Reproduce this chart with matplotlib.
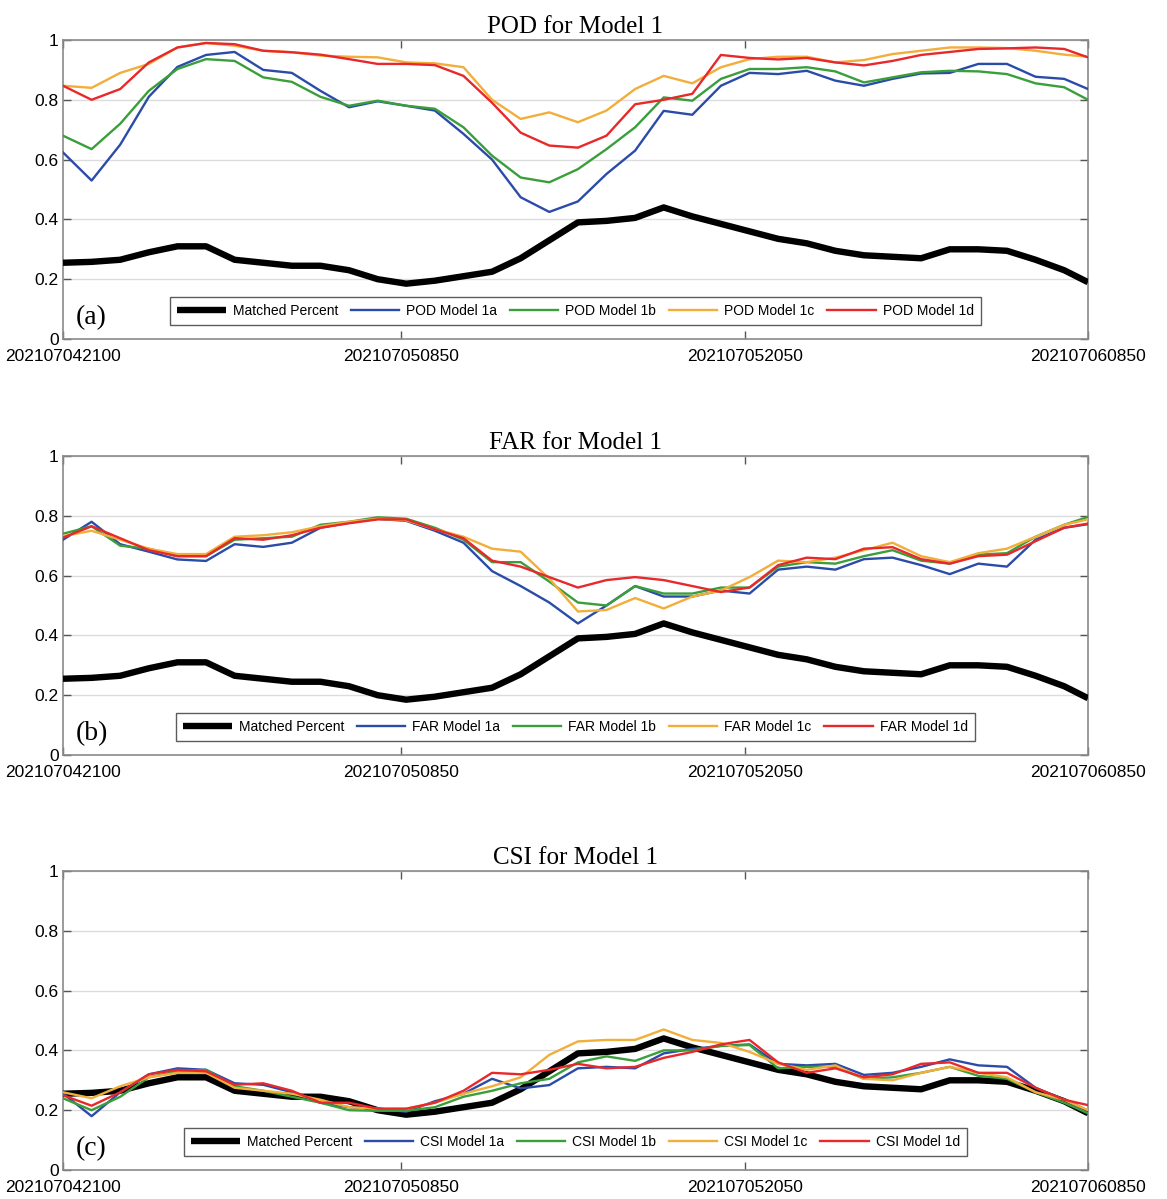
import matplotlib
matplotlib.use("Agg")
import matplotlib.pyplot as plt
import numpy as np

# ---------------- data (hours after 2021-07-04 21:00) ----------------
HOURS = list(range(36)) + [35.833]
TICK_POS = [0, 11.833, 23.833, 35.833]
TICK_LABELS = ["202107042100", "202107050850", "202107052050", "202107060850"]

matched = [0.255, 0.258, 0.265, 0.29, 0.31, 0.31, 0.265, 0.255, 0.245, 0.245,
           0.23, 0.20, 0.185, 0.195, 0.21, 0.225, 0.27, 0.33, 0.39, 0.395,
           0.405, 0.44, 0.41, 0.385, 0.36, 0.335, 0.32, 0.295, 0.28, 0.275,
           0.27, 0.30, 0.30, 0.295, 0.265, 0.23, 0.19]

pod_1a = [0.624, 0.53, 0.65, 0.81, 0.91, 0.95, 0.96, 0.90, 0.89, 0.83,
          0.775, 0.795, 0.78, 0.764, 0.686, 0.60, 0.474, 0.425, 0.46, 0.552,
          0.63, 0.763, 0.75, 0.847, 0.89, 0.886, 0.897, 0.864, 0.847, 0.87,
          0.888, 0.89, 0.92, 0.92, 0.877, 0.87, 0.836]
pod_1b = [0.68, 0.635, 0.72, 0.83, 0.903, 0.936, 0.93, 0.875, 0.86, 0.81,
          0.78, 0.797, 0.78, 0.77, 0.708, 0.613, 0.54, 0.524, 0.568, 0.635,
          0.708, 0.808, 0.797, 0.87, 0.903, 0.903, 0.909, 0.895, 0.858, 0.875,
          0.892, 0.897, 0.895, 0.886, 0.855, 0.842, 0.80]
pod_1c = [0.847, 0.84, 0.89, 0.92, 0.975, 0.99, 0.981, 0.964, 0.959, 0.948,
          0.944, 0.942, 0.925, 0.922, 0.909, 0.80, 0.736, 0.758, 0.725, 0.764,
          0.836, 0.88, 0.855, 0.909, 0.936, 0.944, 0.944, 0.925, 0.933, 0.953,
          0.964, 0.975, 0.975, 0.973, 0.964, 0.951, 0.944]
pod_1d = [0.847, 0.80, 0.836, 0.925, 0.975, 0.99, 0.986, 0.964, 0.959, 0.951,
          0.936, 0.92, 0.92, 0.916, 0.88, 0.79, 0.69, 0.647, 0.64, 0.68,
          0.785, 0.80, 0.82, 0.95, 0.94, 0.935, 0.94, 0.925, 0.915, 0.93,
          0.95, 0.96, 0.97, 0.972, 0.975, 0.97, 0.942]

far_1a = [0.72, 0.78, 0.705, 0.68, 0.654, 0.649, 0.705, 0.696, 0.71, 0.76,
          0.777, 0.79, 0.783, 0.75, 0.71, 0.615, 0.565, 0.51, 0.44, 0.50,
          0.565, 0.53, 0.53, 0.55, 0.54, 0.62, 0.63, 0.62, 0.655, 0.66,
          0.635, 0.605, 0.64, 0.63, 0.72, 0.76, 0.772]
far_1b = [0.74, 0.765, 0.70, 0.69, 0.665, 0.665, 0.72, 0.725, 0.73, 0.77,
          0.78, 0.795, 0.79, 0.76, 0.72, 0.645, 0.645, 0.58, 0.51, 0.50,
          0.565, 0.54, 0.54, 0.56, 0.56, 0.63, 0.645, 0.64, 0.665, 0.685,
          0.65, 0.64, 0.67, 0.675, 0.73, 0.77, 0.796]
far_1c = [0.732, 0.75, 0.72, 0.69, 0.672, 0.672, 0.73, 0.735, 0.745, 0.765,
          0.78, 0.79, 0.785, 0.755, 0.73, 0.69, 0.68, 0.59, 0.48, 0.485,
          0.525, 0.49, 0.53, 0.55, 0.595, 0.65, 0.645, 0.66, 0.685, 0.71,
          0.665, 0.645, 0.675, 0.69, 0.73, 0.77, 0.788]
far_1d = [0.727, 0.765, 0.725, 0.685, 0.665, 0.665, 0.725, 0.72, 0.735, 0.76,
          0.775, 0.788, 0.788, 0.755, 0.725, 0.65, 0.63, 0.595, 0.56, 0.585,
          0.595, 0.585, 0.565, 0.545, 0.56, 0.635, 0.66, 0.655, 0.69, 0.695,
          0.655, 0.64, 0.665, 0.67, 0.715, 0.76, 0.774]

csi_1a = [0.256, 0.18, 0.26, 0.32, 0.34, 0.335, 0.29, 0.285, 0.26, 0.225,
          0.21, 0.205, 0.195, 0.23, 0.255, 0.305, 0.273, 0.284, 0.34, 0.345,
          0.34, 0.39, 0.405, 0.415, 0.42, 0.355, 0.35, 0.355, 0.318, 0.325,
          0.345, 0.37, 0.35, 0.345, 0.275, 0.235, 0.189]
csi_1b = [0.24, 0.20, 0.245, 0.31, 0.33, 0.335, 0.28, 0.265, 0.245, 0.225,
          0.20, 0.198, 0.198, 0.21, 0.245, 0.265, 0.29, 0.305, 0.36, 0.38,
          0.365, 0.40, 0.40, 0.415, 0.418, 0.34, 0.345, 0.345, 0.305, 0.31,
          0.325, 0.345, 0.315, 0.305, 0.26, 0.225, 0.19]
csi_1c = [0.26, 0.24, 0.28, 0.31, 0.325, 0.325, 0.275, 0.265, 0.255, 0.235,
          0.21, 0.205, 0.205, 0.225, 0.255, 0.28, 0.31, 0.385, 0.43, 0.435,
          0.435, 0.47, 0.435, 0.425, 0.395, 0.355, 0.335, 0.35, 0.305, 0.30,
          0.325, 0.345, 0.325, 0.31, 0.26, 0.235, 0.20]
csi_1d = [0.25, 0.215, 0.26, 0.32, 0.335, 0.33, 0.285, 0.29, 0.265, 0.225,
          0.225, 0.205, 0.205, 0.225, 0.265, 0.325, 0.32, 0.335, 0.355, 0.34,
          0.345, 0.375, 0.395, 0.42, 0.435, 0.36, 0.325, 0.34, 0.31, 0.32,
          0.355, 0.36, 0.325, 0.325, 0.275, 0.235, 0.217]

PANELS = [
    ("POD", "(a)", [pod_1a, pod_1b, pod_1c, pod_1d]),
    ("FAR", "(b)", [far_1a, far_1b, far_1c, far_1d]),
    ("CSI", "(c)", [csi_1a, csi_1b, csi_1c, csi_1d]),
]
SUFFIXES = ["1a", "1b", "1c", "1d"]
COLORS = ["#2B4BA8", "#3A9E3A", "#F2AE3A", "#E8282A"]

# ---------------- figure ----------------
W, H = 1167, 1199
fig = plt.figure(figsize=(W / 100, H / 100), dpi=100)

def px_axes(left, top, right, bottom):
    return fig.add_axes([left / W, 1 - bottom / H, (right - left) / W, (bottom - top) / H])

boxes = [(63, 40, 1088, 339), (63, 456, 1088, 755), (63, 871, 1088, 1170)]

for (metric, tag, series), box in zip(PANELS, boxes):
    ax = px_axes(*box)
    ax.plot(HOURS, matched, color="black", lw=4.6, label="Matched Percent",
            solid_capstyle="butt", zorder=3)
    for vals, suf, col in zip(series, SUFFIXES, COLORS):
        ax.plot(HOURS, vals, color=col, lw=1.7, label=f"{metric} Model {suf}", zorder=4)
    ax.set_xlim(0, 35.833)
    ax.set_ylim(0, 1)
    ax.set_xticks(TICK_POS)
    ax.set_xticklabels(TICK_LABELS, fontsize=12.5, family="Liberation Sans")
    ax.set_yticks([0, 0.2, 0.4, 0.6, 0.8, 1])
    ax.set_yticklabels(["0", "0.2", "0.4", "0.6", "0.8", "1"], fontsize=12.5,
                       family="Liberation Sans")
    ax.yaxis.grid(True, color="#dcdcdc", lw=1.0)
    ax.set_axisbelow(True)
    ax.tick_params(direction="in", top=True, right=True, length=6, width=1,
                   color="#555555", pad=3)
    ax.tick_params(axis="x", pad=7)
    for sp in ax.spines.values():
        sp.set_color("#8a8a8a")
        sp.set_linewidth(1.2)
    ax.set_title(f"{metric} for Model 1", family="Liberation Serif", fontsize=18, pad=5)
    ax.text(0.012, 0.03, tag, transform=ax.transAxes, family="Liberation Serif",
            fontsize=20, ha="left", va="bottom")
    leg = ax.legend(loc="lower center", ncol=5, bbox_to_anchor=(0.5, 0.047),
                    prop={"family": "Liberation Sans", "size": 10},
                    frameon=True, fancybox=False, edgecolor="#333333",
                    handlelength=3.5, columnspacing=0.9, handletextpad=0.5,
                    borderpad=0.5, borderaxespad=0)
    leg.get_frame().set_linewidth(1.0)

fig.savefig("out.png", dpi=100, facecolor="white")
